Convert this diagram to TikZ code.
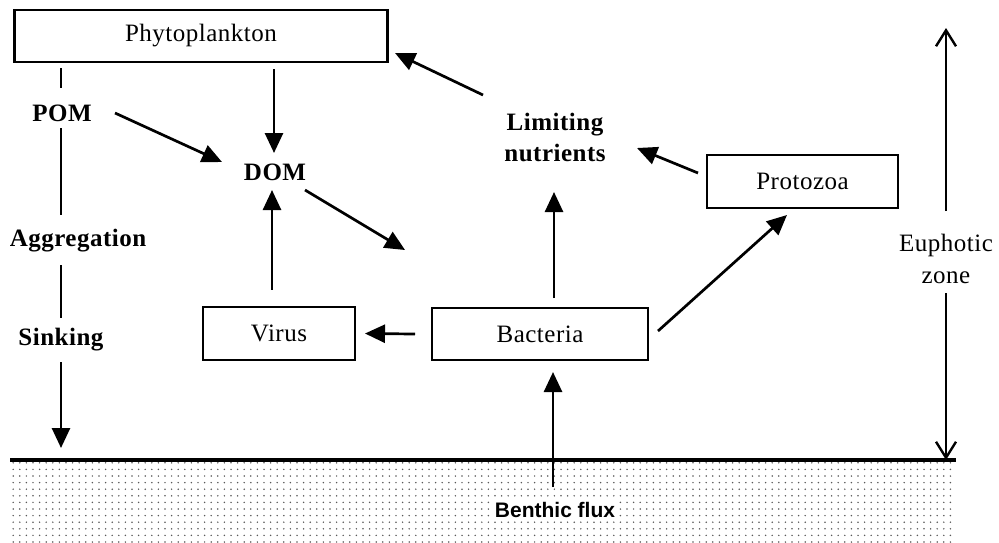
\documentclass[tikz,border=0pt]{standalone}
\usepackage{fontspec}
\setmainfont{Liberation Serif}[LetterSpace=2]
\newfontfamily\benthicfont{Liberation Sans}
\usetikzlibrary{arrows.meta,patterns.meta}
\tikzset{
  box/.style={draw, line width=1.1pt, inner sep=0pt, font=\fontsize{12.5}{15}\selectfont},
  lbl/.style={font=\fontsize{12.5}{15.5}\selectfont\bfseries, align=center, inner sep=0pt},
  plainlbl/.style={font=\fontsize{12.5}{16}\selectfont, align=center, inner sep=0pt},
  arr/.style={line width=1.35pt, -{Triangle[length=10pt,width=9pt]}},
  seg/.style={line width=1.35pt},
  barb/.style={line width=1.2pt, -{Straight Barb[length=8pt,width=10pt]}},
}
\begin{document}
\begin{tikzpicture}[x=0.5pt,y=-0.5pt]
\useasboundingbox (0,0) rectangle (999,542);
% sediment
\fill[pattern={Dots[radius=0.42pt,distance=3.3pt]}, pattern color=black!65] (10,461) rectangle (954,542);
\coordinate (gl) at (10,460);
\coordinate (gr) at (956,460);
\draw[line width=1.6pt] (gl) -- (gr);

% boxes
\node[box, minimum width=186.5pt, minimum height=26pt] (phyto) at (201,36) {Phytoplankton};
\node[box, minimum width=76pt, minimum height=26.5pt] (virus) at (279,333.5) {Virus};
\node[box, minimum width=108pt, minimum height=26pt] (bact) at (540,334) {Bacteria};
\node[box, minimum width=95.5pt, minimum height=26.5pt] (proto) at (802.5,181.5) {Protozoa};

% labels
\node[lbl] (pom) at (62,113) {POM};
\node[lbl] (dom) at (275,172) {DOM};
\node[lbl] (agg) at (78,241) {Aggregation};
\node[lbl] (sink) at (61,340) {Sinking};
\node[lbl] (lim) at (555,137) {Limiting\\nutrients};
\node[plainlbl] (euph) at (946,259) {Euphotic\\zone};
\node[font=\benthicfont\bfseries\fontsize{10.5}{12}\selectfont, fill=white, inner sep=1pt] (benth) at (555,510) {Benthic flux};

% left column
\draw[seg] ([shift={(-1,-45)}]pom.center) -- ([shift={(-1,-25)}]pom.center);
\draw[seg] ([shift={(-1,15)}]pom.center) -- ([shift={(-17,-26)}]agg.center);
\draw[seg] ([shift={(-17,24)}]agg.center) -- ([shift={(0,-22)}]sink.center);
\draw[arr] ([shift={(0,22)}]sink.center) -- ([shift={(0,108)}]sink.center);

% arrows
\draw[arr] ([shift={(73,33)}]phyto.center) -- ([shift={(-1,-19)}]dom.center);
\draw[arr] ([shift={(53,0)}]pom.center) -- ([shift={(-53,-10)}]dom.center);
\draw[arr] ([shift={(30,18)}]dom.center) -- ([shift={(-135,-84)}]bact.center);
\draw[arr] ([shift={(-7,-44)}]virus.center) -- ([shift={(-3,18)}]dom.center);
\draw[arr] ([shift={(-125,0)}]bact.center) -- ([shift={(86,0)}]virus.center);
\draw[arr] ([shift={(14,-36)}]bact.center) -- ([shift={(-1,55)}]lim.center);
\draw[arr] ([shift={(-72,-42)}]lim.center) -- ([shift={(194,17)}]phyto.center);
\draw[arr] ([shift={(-104.5,-8.5)}]proto.center) -- ([shift={(82,11)}]lim.center);
\draw[arr] ([shift={(118,-3)}]bact.center) -- ([shift={(-15.5,33.5)}]proto.center);
\draw[arr] ([shift={(-2,-23)}]benth.center) -- ([shift={(13,38)}]bact.center);

% euphotic zone
\coordinate (eutop) at (946,28);
\draw[barb] ([shift={(0,-48)}]euph.center) -- (eutop);
\draw[barb] ([shift={(0,34)}]euph.center) -- (gr -| euph);
\end{tikzpicture}
\end{document}
